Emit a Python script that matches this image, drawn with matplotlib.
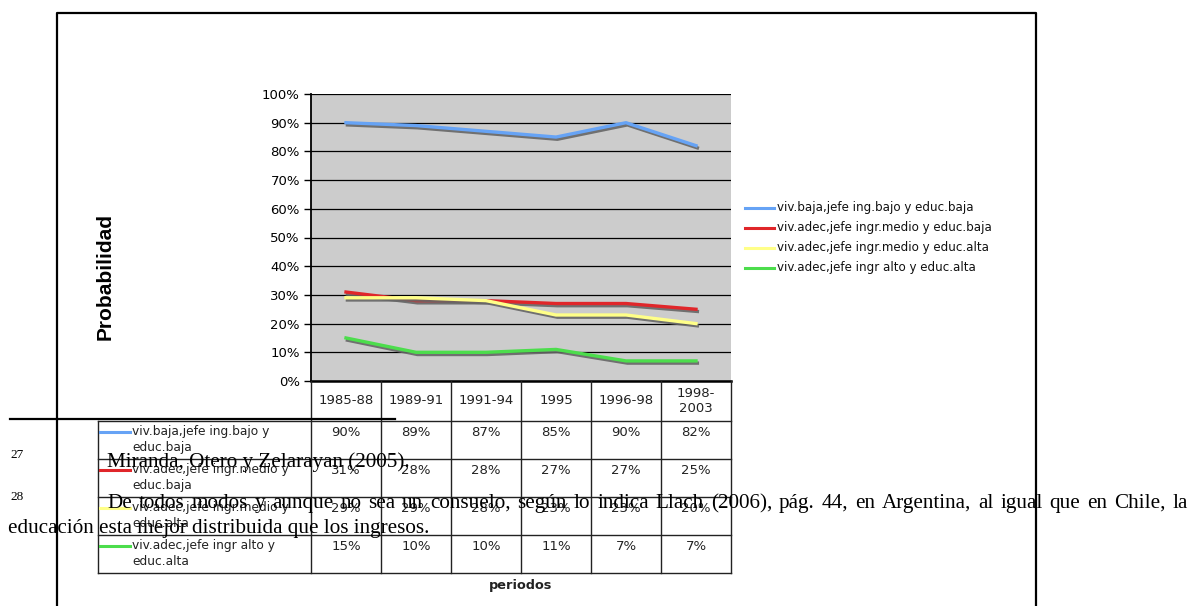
import matplotlib
matplotlib.use('Agg')
import matplotlib.pyplot as plt
import matplotlib.patheffects as pe

periodos = ['1985-88', '1989-91', '1991-94', '1995', '1996-98', '1998-\n2003']
series_names = ['viv.baja,jefe ing.bajo y educ.baja',
                'viv.adec,jefe ingr.medio y educ.baja',
                'viv.adec,jefe ingr.medio y educ.alta',
                'viv.adec,jefe ingr alto y educ.alta']
table_names = ['viv.baja,jefe ing.bajo y\neduc.baja',
               'viv.adec,jefe ingr.medio y\neduc.baja',
               'viv.adec,jefe ingr.medio y\neduc.alta',
               'viv.adec,jefe ingr alto y\neduc.alta']
baja_bajo = [90, 89, 87, 85, 90, 82]
adec_medio_baja = [31, 28, 28, 27, 27, 25]
adec_medio_alta = [29, 29, 28, 23, 23, 20]
adec_alto_alta = [15, 10, 10, 11, 7, 7]
series = [baja_bajo, adec_medio_baja, adec_medio_alta, adec_alto_alta]
colors = ['#66A3F5', '#E0262A', '#FFFF88', '#4CDD4C']

W, H = 1194, 606
fig = plt.figure(figsize=(W / 100, H / 100), dpi=100)

# plot area (pixel box 311..731 x 94..381)
px_l, px_r, px_t, px_b = 311, 731, 94, 381
ax = fig.add_axes([px_l / W, 1 - px_b / H, (px_r - px_l) / W, (px_b - px_t) / H])
ax.set_facecolor('#CCCCCC')
x = list(range(len(periodos)))
shadow = [pe.SimpleLineShadow(offset=(1, -1.6), shadow_color='#666666', alpha=0.9), pe.Normal()]
for vals, c in zip(series, colors):
    ax.plot(x, vals, color=c, lw=2.4, path_effects=shadow, zorder=3)
ax.set_xlim(-0.5, len(periodos) - 0.5)
ax.set_ylim(0, 100)
ax.set_yticks(range(0, 101, 10))
ax.set_yticklabels([f'{v}%' for v in range(0, 101, 10)], fontsize=9.5)
ax.set_xticks([])
ax.yaxis.grid(True, color='black', lw=0.9)
ax.set_axisbelow(True)
for s in ['top', 'right']:
    ax.spines[s].set_visible(False)
ax.spines['left'].set_linewidth(1.3)
ax.spines['bottom'].set_linewidth(1.8)
ax.tick_params(axis='y', length=5, width=1, pad=3)

# overlay in pixel coordinates for table, legend, border and page text
ov = fig.add_axes([0, 0, 1, 1], zorder=5)
ov.set_xlim(0, W)
ov.set_ylim(H, 0)
ov.axis('off')

# chart border
ov.plot([57, 57, 1036, 1036], [H + 5, 13, 13, H + 5], color='black', lw=1.6)

ov.text(105, 277, 'Probabilidad', rotation=90, ha='center', va='center',
        fontsize=15, fontweight='bold', family='Liberation Sans')

# data table
col_w = (px_r - px_l) / len(periodos)
tbl_l = 98
row_tops = [421, 459, 497, 535, 573]
grid_kw = dict(color='#222222', lw=1)
for i in range(len(periodos) + 1):
    xx = px_l + i * col_w
    ov.plot([xx, xx], [px_b, row_tops[-1]], **grid_kw)
ov.plot([tbl_l, tbl_l], [row_tops[0], row_tops[-1]], **grid_kw)
for yy in row_tops:
    ov.plot([tbl_l, px_r], [yy, yy], **grid_kw)
for i, p in enumerate(periodos):
    ov.text(px_l + (i + 0.5) * col_w, (px_b + row_tops[0]) / 2, p, ha='center',
            va='center', fontsize=9.5, color='#222222', linespacing=1.25)
for r, (name, vals, c) in enumerate(zip(table_names, series, colors)):
    top = row_tops[r]
    ov.plot([100, 130], [top + 11, top + 11], color=c, lw=2.2)
    ov.text(132, top + 4, name, ha='left', va='top', fontsize=8.8,
            color='#222222', linespacing=1.3)
    for i, v in enumerate(vals):
        ov.text(px_l + (i + 0.5) * col_w, top + 11, f'{v}%', ha='center',
                va='center', fontsize=9.5, color='#222222')
ov.text((px_l + px_r) / 2, 585, 'periodos', ha='center', va='center',
        fontsize=9.3, fontweight='bold', color='#222222')

# right legend
for r, (name, c) in enumerate(zip(series_names, colors)):
    yy = 208 + r * 20
    ov.plot([745, 774], [yy, yy], color=c, lw=2.2)
    ov.text(777, yy, name, ha='left', va='center', fontsize=8.6, color='#111111')

# page text overlapping the chart
serif = 'Liberation Serif'
fs = 15.2
ov.plot([10, 395], [419, 419], color='black', lw=1.6)
ov.text(10, 455, '27', ha='left', va='center', fontsize=9.5, family=serif)
ov.text(107, 467, 'Miranda, Otero y Zelarayan (2005).', ha='left', va='baseline',
        fontsize=fs, family=serif)
ov.text(10, 497, '28', ha='left', va='center', fontsize=9.5, family=serif)

# justified line, words spread from x=107 to x=1188
line1 = ('De todos modos y aunque no sea un consuelo, según lo indica Llach (2006), '
         'pág. 44, en Argentina, al igual que en Chile, la').split()
renderer = fig.canvas.get_renderer()
widths = []
for w in line1:
    t = ov.text(0, 0, w, fontsize=fs, family=serif)
    widths.append(t.get_window_extent(renderer).width)
    t.remove()
gap = (1188 - 107 - sum(widths)) / (len(line1) - 1)
xpos = 107
for w, wd in zip(line1, widths):
    ov.text(xpos, 508, w, ha='left', va='baseline', fontsize=fs, family=serif)
    xpos += wd + gap
ov.text(8, 533, 'educación esta mejor distribuida que los ingresos.', ha='left',
        va='baseline', fontsize=fs, family=serif)

fig.savefig('out.png', dpi=100)
